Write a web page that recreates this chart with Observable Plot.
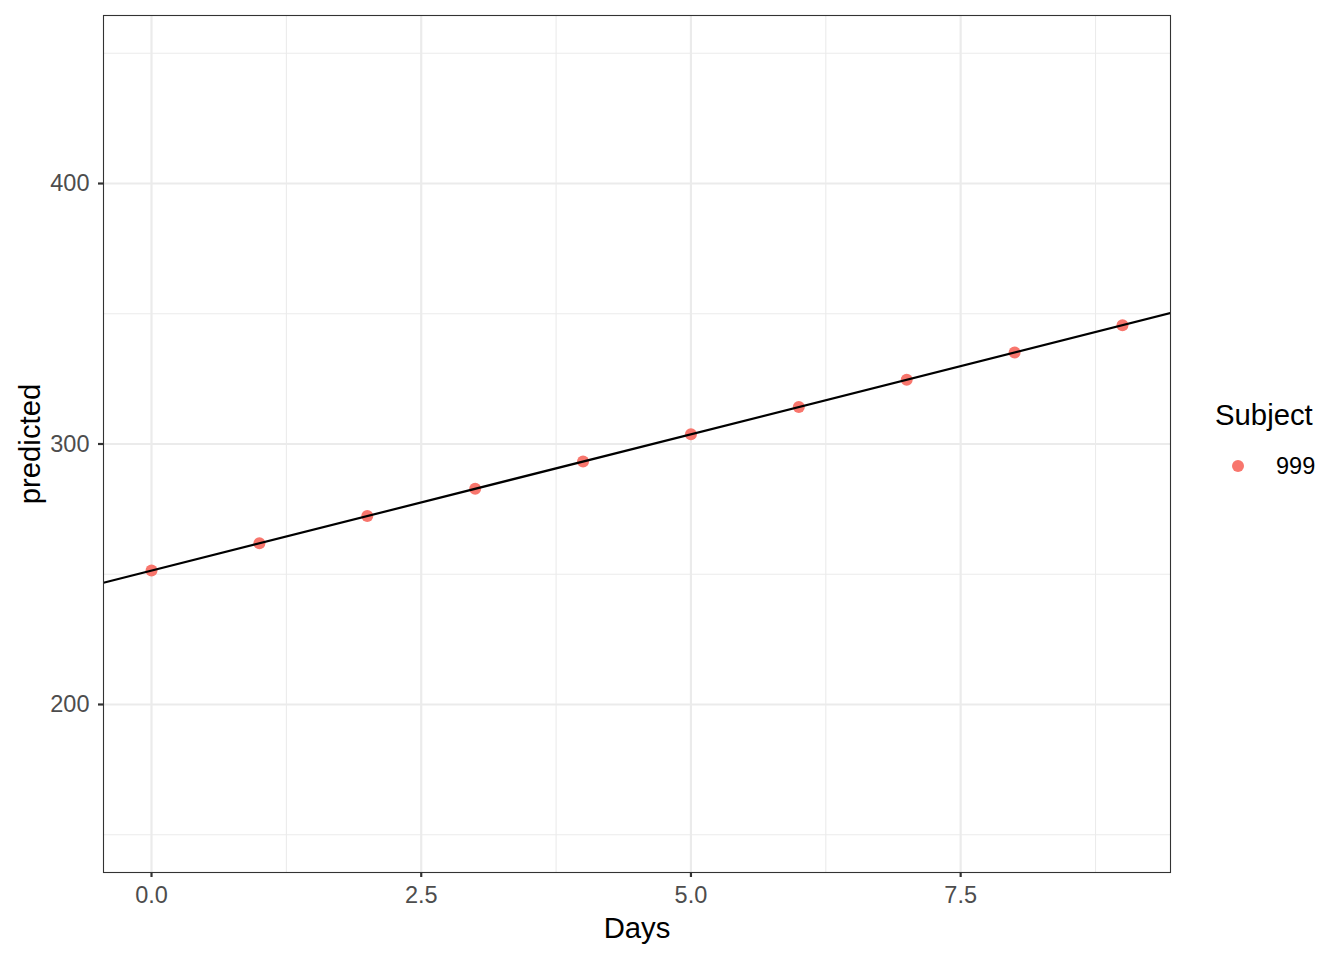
<!DOCTYPE html>
<html>
<head>
<meta charset="utf-8">
<script src="https://cdn.jsdelivr.net/npm/d3@7"></script>
<script src="https://cdn.jsdelivr.net/npm/@observablehq/plot@0.6"></script>
<style>
  html, body { margin: 0; padding: 0; background: #fff; }
  #wrap { position: relative; width: 1344px; height: 960px; font-family: "Liberation Sans", Arial, sans-serif; }
  #wrap div { line-height: 1; white-space: nowrap; }
  #legend-title { position: absolute; left: 1215px; top: 400px; font-size: 29.3px; color: #000; }
  #legend-dot { position: absolute; left: 1232px; top: 460px; width: 12px; height: 12px; border-radius: 50%; background: #F8766D; }
  #legend-label { position: absolute; left: 1276px; top: 455px; font-size: 23.5px; color: #000; }
</style>
</head>
<body>
<div id="wrap">
  <div id="legend-title">Subject</div>
  <div id="legend-dot"></div>
  <div id="legend-label">999</div>
</div>
<script>
const days = [0, 1, 2, 3, 4, 5, 6, 7, 8, 9];
const predicted = [251.4, 261.9, 272.4, 282.8, 293.3, 303.7, 314.2, 324.7, 335.1, 345.6];
const subject = "999";
const intercept = 251.4;
const slope = 10.467;
const xMajor = [0, 2.5, 5, 7.5];
const xMinor = [1.25, 3.75, 6.25, 8.75];
const yMajor = [200, 300, 400];
const yMinor = [150, 250, 350, 450];
const xDomain = [-0.445, 9.445];
const yDomain = [135.5, 464.5];

const pts = days.map((d, i) => ({Days: d, predicted: predicted[i], Subject: subject}));
const lineData = xDomain.map(x => ({x, y: intercept + slope * x}));

const chart = Plot.plot({
  width: 1344,
  height: 960,
  marginLeft: 103,
  marginRight: 174,
  marginTop: 15,
  marginBottom: 88,
  style: {fontFamily: "'Liberation Sans', Arial, sans-serif", background: "#fff"},
  x: {domain: xDomain, label: null},
  y: {domain: yDomain, label: null},
  marks: [
    Plot.ruleX(xMinor, {stroke: "#EBEBEB", strokeWidth: 1.1}),
    Plot.ruleY(yMinor, {stroke: "#EBEBEB", strokeWidth: 1.1}),
    Plot.ruleX(xMajor, {stroke: "#EBEBEB", strokeWidth: 2.2}),
    Plot.ruleY(yMajor, {stroke: "#EBEBEB", strokeWidth: 2.2}),
    Plot.dot(pts, {x: "Days", y: "predicted", r: 6, fill: "#F8766D", stroke: null}),
    Plot.line(lineData, {x: "x", y: "y", stroke: "#000", strokeWidth: 2.2, clip: true}),
    Plot.frame({stroke: "#333333", strokeWidth: 1.1}),
    Plot.axisX({ticks: xMajor, tickFormat: d3.format(".1f"), tickSize: 5, tickPadding: 9,
      stroke: "#333333", strokeWidth: 2.2, fill: "#4D4D4D", fontSize: 23.5, label: null}),
    Plot.axisY({ticks: yMajor, tickSize: 5, tickPadding: 9,
      stroke: "#333333", strokeWidth: 2.2, fill: "#4D4D4D", fontSize: 23.5, label: null}),
    Plot.text(["Days"], {frameAnchor: "bottom", lineAnchor: "middle", textAnchor: "middle", dy: 56,
      fontSize: 29.3, fill: "#000", text: d => d}),
    Plot.text(["predicted"], {frameAnchor: "left", lineAnchor: "middle", textAnchor: "middle", dx: -73,
      rotate: -90, fontSize: 29.3, fill: "#000", text: d => d})
  ]
});
document.getElementById("wrap").prepend(chart);
chart.style.position = "absolute";
chart.style.left = "0";
chart.style.top = "0";
</script>
</body>
</html>
